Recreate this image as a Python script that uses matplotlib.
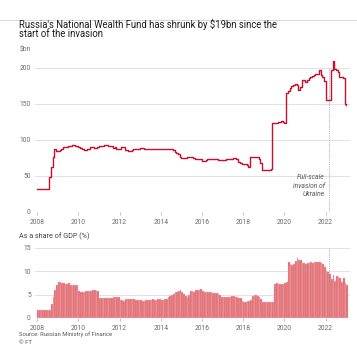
import numpy as np
import matplotlib
matplotlib.use("Agg")
import matplotlib.pyplot as plt
from matplotlib.lines import Line2D

plt.rcParams['font.family'] = ['Roboto', 'DejaVu Sans']

# monthly values, Jan 2008 .. Jan 2023
fund_bn = [
    32, 32, 32, 32, 32, 32, 32, 48, 63, 77, 88, 85,          # 2008
    85, 86, 87, 90, 90, 90, 91, 92, 93, 93, 92, 91,          # 2009
    90, 89, 88, 86, 86, 88, 88, 90, 90, 89, 89, 90,          # 2010
    91, 91, 92, 93, 93, 92, 92, 92, 89, 90, 88, 87,          # 2011
    88, 90, 90, 86, 86, 85, 85, 86, 87, 87, 88, 88,          # 2012
    89, 89, 88, 87, 87, 87, 87, 87, 87, 88, 88, 88,          # 2013
    88, 88, 87, 87, 87, 87, 87, 86, 84, 82, 80, 77,          # 2014
    75, 75, 75, 76, 77, 76, 76, 75, 74, 74, 73, 73,          # 2015
    71, 71, 72, 73, 73, 73, 73, 73, 73, 72, 72, 72,          # 2016
    72, 72, 73, 73, 74, 74, 75, 75, 73, 70, 68, 67,          # 2017
    66, 66, 65, 63, 77, 77, 77, 76, 76, 73, 68, 59,          # 2018
    59, 59, 59, 59, 60, 124, 124, 124, 125, 125, 126, 125,   # 2019
    124, 165, 168, 172, 175, 177, 178, 176, 170, 174, 184, 183,  # 2020
    181, 184, 186, 188, 189, 190, 191, 192, 197, 190, 187, 182,  # 2021
    155, 155, 155, 197, 210, 199, 197, 195, 187, 187, 186, 150,  # 2022
    148,                                                     # 2023
]

share_gdp = [
    1.8, 1.8, 1.8, 1.8, 1.8, 1.8, 1.8, 1.8, 3.0, 4.5, 6.0, 7.0,
    7.7, 7.7, 7.6, 7.4, 7.2, 7.3, 7.4, 7.1, 7.0, 7.0, 7.0, 7.0,
    5.8, 5.6, 5.6, 5.6, 5.7, 5.7, 5.7, 5.8, 6.0, 5.9, 5.8, 5.8,
    4.3, 4.3, 4.3, 4.3, 4.3, 4.3, 4.3, 4.3, 4.6, 4.5, 4.5, 4.4,
    3.8, 3.8, 3.7, 4.0, 4.0, 4.0, 4.0, 4.0, 4.0, 3.9, 3.9, 3.9,
    3.8, 3.7, 3.7, 3.8, 3.8, 3.9, 3.9, 4.0, 3.9, 3.9, 4.0, 4.0,
    3.8, 3.8, 4.0, 4.1, 4.4, 4.7, 4.9, 5.2, 5.5, 5.5, 5.7, 6.0,
    5.6, 5.2, 4.7, 4.5, 5.0, 5.8, 5.7, 5.6, 5.9, 6.0, 6.1, 6.2,
    5.7, 5.6, 5.6, 5.6, 5.5, 5.6, 5.4, 5.3, 5.3, 5.2, 5.0, 4.6,
    4.6, 4.5, 4.5, 4.5, 4.6, 4.8, 4.7, 4.6, 4.5, 4.3, 4.2, 3.6,
    3.5, 3.5, 3.6, 3.7, 3.8, 4.7, 5.0, 4.9, 4.8, 4.6, 4.0, 3.5,
    3.5, 3.4, 3.4, 3.4, 3.4, 3.4, 7.2, 7.4, 7.2, 7.2, 7.2, 7.3,
    7.5, 7.8, 12.0, 11.5, 11.4, 11.5, 12.2, 12.8, 12.5, 12.4, 11.8, 11.7,
    11.6, 11.7, 11.8, 11.9, 11.8, 12.0, 12.0, 12.0, 11.9, 11.7, 11.5, 11.0,
    10.0, 9.8, 9.5, 8.3, 9.2, 8.0, 9.0, 8.7, 8.5, 7.8, 8.5, 7.6,
    7.0,
]

invasion = 2022 + 1.8 / 12
years = [2008, 2010, 2012, 2014, 2016, 2018, 2020, 2022]

t = 2008 + np.arange(len(fund_bn)) / 12
red = '#c8102e'
bar_red = '#e0646a'
grid_c = '#dcdcdc'
tick_c = '#6b6b6b'

W, H = 357, 349
fig = plt.figure(figsize=(W / 100, H / 100), dpi=100)
fig.patch.set_facecolor('white')

def fx(px):
    return px / W

def fy(py):
    return 1 - py / H

fig.add_artist(Line2D([0, 1], [fy(20), fy(20)], color='#d0d0d0', lw=0.6))
fig.text(fx(19), fy(28), "Russia's National Wealth Fund has shrunk by $19bn since the",
         fontsize=6.85, color='#1a1a1a', va='baseline')
fig.text(fx(19), fy(37), "start of the invasion", fontsize=6.85, color='#1a1a1a', va='baseline')
fig.text(fx(20), fy(50), "$bn", fontsize=4.8, color=tick_c, va='center')

xl = (2007.89, 2023.18)

# top chart
ax1 = fig.add_axes([fx(35), fy(212), fx(350) - fx(35), (212 - 57.2) / H])
ax1.step(t, fund_bn, where='post', color=red, lw=1.0, zorder=3)
ax1.set_xlim(*xl)
ax1.set_ylim(0, 215)
ax1.set_yticks([0, 50, 100, 150, 200])
ax1.axvline(invasion, ymax=200 / 215, color='#9a9a9a', lw=0.6, ls=(0, (1, 1.2)), zorder=2)
ax1.text(invasion - 0.2, 48, "Full-scale", ha='right', va='center', fontsize=4.9,
         style='italic', color='#555555')
ax1.text(invasion - 0.2, 36.5, "invasion of", ha='right', va='center', fontsize=4.9,
         style='italic', color='#555555')
ax1.text(invasion - 0.2, 25, "Ukraine", ha='right', va='center', fontsize=4.9,
         style='italic', color='#555555')

# bottom chart
fig.text(fx(19), fy(236), "As a share of GDP (%)", fontsize=5.2, color='#444444', va='center')
ax2 = fig.add_axes([fx(35), fy(318), fx(350) - fx(35), 70 / H])
ax2.bar(t, share_gdp, width=1 / 12, align='edge', color=bar_red,
        edgecolor='#f3c4c6', linewidth=0.25, zorder=3)
ax2.set_xlim(*xl)
ax2.set_ylim(0, 15)
ax2.set_yticks([0, 5, 10, 15])
ax2.axvline(invasion, color='#9a9a9a', lw=0.6, ls=(0, (1, 1.2)), zorder=4)

for ax in (ax1, ax2):
    ax.set_facecolor('white')
    for s in ax.spines.values():
        s.set_visible(False)
    ax.grid(axis='y', color=grid_c, lw=0.6, zorder=0)
    ax.set_axisbelow(True)
    ax.set_xticks(years)
    ax.set_xticklabels([str(y) for y in years])
    ax.tick_params(axis='y', length=0, pad=3, labelsize=4.9, labelcolor=tick_c)
    ax.tick_params(axis='x', length=2, width=0.5, color='#aaaaaa', pad=3,
                   labelsize=4.9, labelcolor=tick_c)
    ax.axhline(0, color='#b0b0b0', lw=0.6, zorder=1)

fig.text(fx(19), fy(334), "Source: Russian Ministry of Finance", fontsize=4.2,
         color='#555555', va='center')
fig.text(fx(19), fy(342), "\u00a9 FT", fontsize=4.2, color='#555555', va='center')

fig.savefig('out.png', dpi=100, facecolor='white')
